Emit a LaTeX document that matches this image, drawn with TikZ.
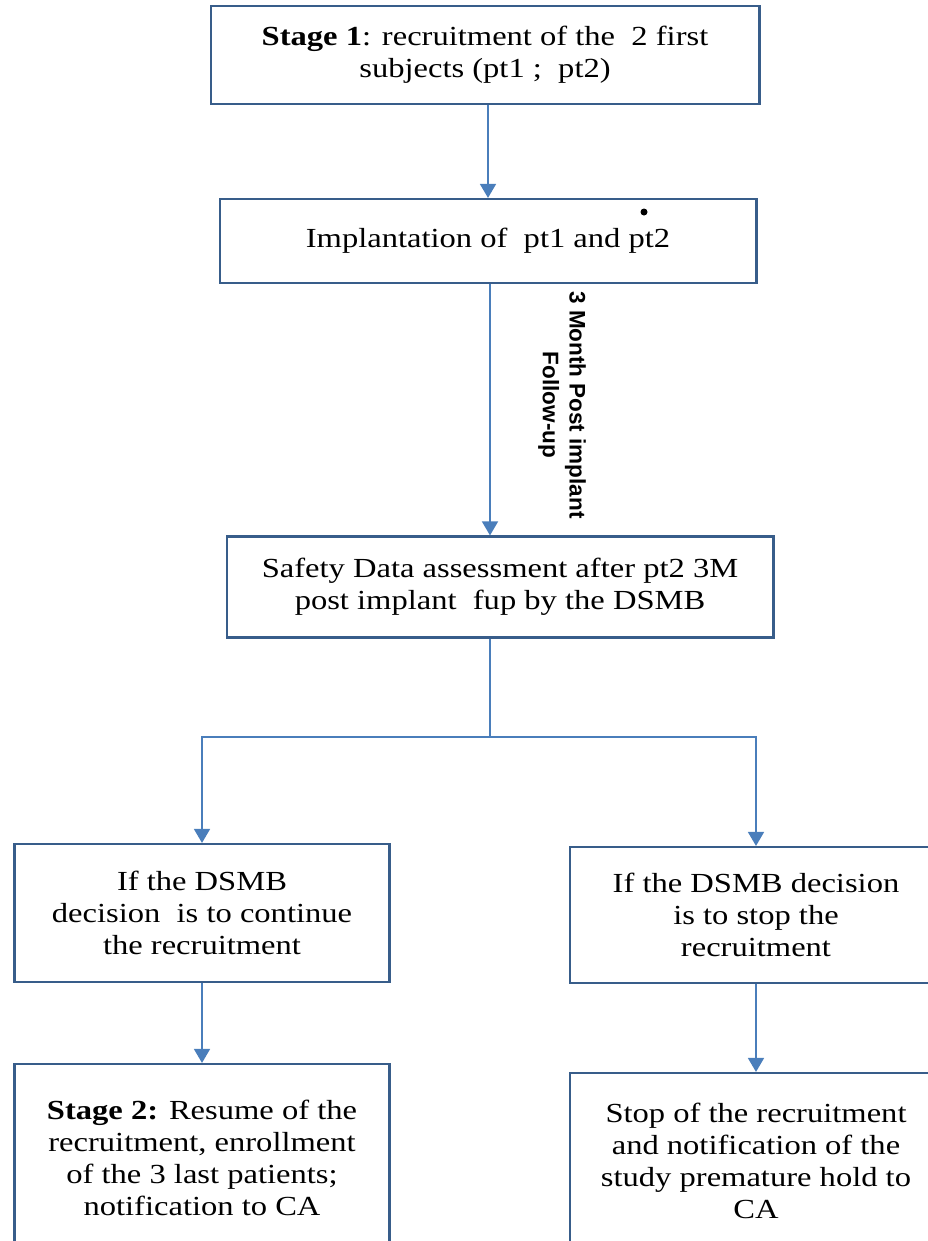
\documentclass[tikz,border=0pt]{standalone}
\usepackage{fontspec}
\setmainfont{Liberation Serif}[FakeStretch=1.18]
\newfontfamily\labelfont{Liberation Sans}
\usetikzlibrary{arrows.meta}
\definecolor{boxline}{RGB}{56,93,138}
\definecolor{arrowblue}{RGB}{74,126,187}

\begin{document}
\begin{tikzpicture}[x=0.02cm, y=-0.02cm,
  flowbox/.style = {shape=rectangle, draw=boxline, line width=1.2pt,
    align=center, inner sep=0pt, fill=white,
    font=\fontsize{15.7}{18.1}\selectfont},
  flowline/.style = {draw=arrowblue, line width=1.3pt},
  flowarrow/.style = {flowline, -{Triangle[width=9pt, length=8pt]}}]
  \useasboundingbox (0,0) rectangle (927,1241);
  \node[flowbox, minimum width=10.98cm, minimum height=1.96cm] (stageone) at (485,55)
    {\textbf{Stage 1}: recruitment of the \ 2 first\\subjects (pt1 ; \ pt2)};
  \node[flowbox, minimum width=10.74cm, minimum height=1.68cm] (implant) at (488,241)
    {Implantation of \ pt1 and pt2};
  \fill (644,212) circle (3.5);
  \node[flowbox, minimum width=10.94cm, minimum height=2.02cm] (safety) at (500,587)
    {Safety Data assessment after pt2 3M\\post implant \ fup by the DSMB};
  \node[flowbox, minimum width=7.5cm, minimum height=2.76cm] (goon) at (202,913)
    {If the DSMB\\decision \ is to continue\\the recruitment};
  \node[flowbox, minimum width=7.44cm, minimum height=2.72cm] (halt) at (756,915)
    {If the DSMB decision\\is to stop the\\recruitment};
  \node[flowbox, minimum width=7.5cm, minimum height=3.76cm] (stagetwo) at (202,1158)
    {\textbf{Stage 2:} Resume of the\\recruitment, enrollment\\of the 3 last patients;\\notification to CA};
  \node[flowbox, minimum width=7.44cm, minimum height=3.52cm] (stopall) at (756,1161)
    {Stop of the recruitment\\and notification of the\\study premature hold to\\CA};
  \node[rotate=-90, align=center, font=\labelfont\bfseries\fontsize{12.8}{15.3}\selectfont] (followup) at (562,405)
    {3 Month Post implant\\Follow-up};
  \coordinate (split) at (490,737);

  \draw[flowarrow] (implant.north |- stageone.south) -- (implant.north);
  \draw[flowarrow] (split |- implant.south) -- (split |- safety.north);
  \draw[flowline] (split |- safety.south) -- (split);
  \draw[flowarrow] (split) -| (goon.north);
  \draw[flowarrow] (split) -| (halt.north);
  \draw[flowarrow] (goon) -- (stagetwo);
  \draw[flowarrow] (halt) -- (stopall);
\end{tikzpicture}
\end{document}
